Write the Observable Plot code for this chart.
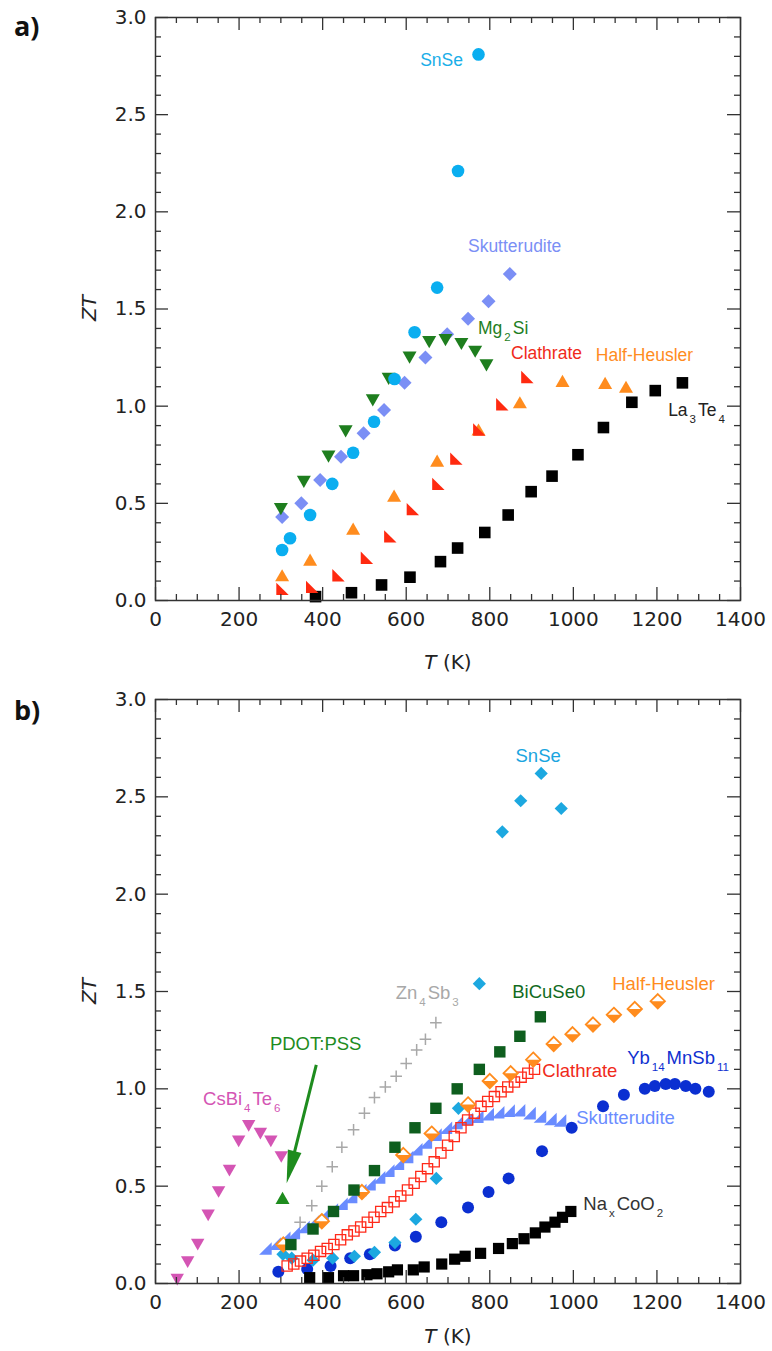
<!DOCTYPE html>
<html><head><meta charset="utf-8">
<script src="https://cdn.jsdelivr.net/npm/d3@7"></script>
<script src="https://cdn.jsdelivr.net/npm/@observablehq/plot@0.6"></script>
<style>
body{margin:0;background:#fff;}
#chart{width:772px;}
#chart svg{display:block;}
</style></head><body><div id="chart"></div>
<script>
// ---------- Panel a data ----------
const aSnSeT  = [303,322,370,423,473,523,572,620,674,724,773];
const aSnSeZT = [0.26,0.32,0.44,0.60,0.76,0.92,1.14,1.38,1.61,2.21,2.81];
const aSkutT  = [303,349,394,444,498,547,596,646,698,748,797,848];
const aSkutZT = [0.43,0.50,0.62,0.74,0.86,0.98,1.12,1.25,1.37,1.45,1.54,1.68];
const aMg2SiT  = [300,355,414,455,520,558,608,655,694,732,765,792];
const aMg2SiZT = [0.47,0.61,0.74,0.87,1.03,1.14,1.25,1.33,1.34,1.32,1.28,1.21];
const aClathT  = [304,375,438,506,562,616,677,720,775,830,890];
const aClathZT = [0.06,0.07,0.13,0.22,0.33,0.47,0.60,0.73,0.88,1.01,1.15];
const aHHT  = [303,370,473,571,674,773,872,974,1076,1126];
const aHHZT = [0.13,0.21,0.37,0.54,0.72,0.88,1.02,1.13,1.12,1.10];
const aLaTeT  = [383,469,541,609,682,723,788,844,899,949,1011,1072,1140,1196,1261];
const aLaTeZT = [0.02,0.04,0.08,0.12,0.20,0.27,0.35,0.44,0.56,0.64,0.75,0.89,1.02,1.08,1.12];

// ---------- Panel b data ----------
const bSnSeT  = [305,326,377,424,476,524,573,623,672,725,775,830,874,923,971];
const bSnSeZT = [0.15,0.13,0.12,0.13,0.14,0.16,0.21,0.33,0.54,0.90,1.54,2.32,2.48,2.62,2.44];
const bYbT  = [294,363,419,466,513,573,623,684,748,797,845,925,996,1071,1121,1171,1195,1221,1243,1269,1292,1324];
const bYbZT = [0.06,0.075,0.09,0.13,0.15,0.195,0.24,0.315,0.39,0.47,0.54,0.68,0.80,0.91,0.97,1.00,1.015,1.025,1.025,1.015,1.00,0.985];
const bNaT  = [369,414,450,474,506,530,558,579,617,643,685,716,741,778,821,854,882,909,932,956,974,994];
const bNaZT = [0.03,0.03,0.04,0.04,0.045,0.05,0.06,0.07,0.07,0.085,0.10,0.125,0.14,0.155,0.18,0.205,0.23,0.26,0.29,0.315,0.34,0.37];
const bBiT  = [324,377,426,475,524,573,621,671,722,775,824,872,921];
const bBiZT = [0.20,0.28,0.37,0.48,0.58,0.70,0.80,0.90,1.00,1.10,1.19,1.27,1.37];
const bHHT  = [306,398,494,593,661,748,800,850,904,953,998,1047,1097,1147,1202];
const bHHZT = [0.20,0.32,0.47,0.66,0.77,0.92,1.04,1.08,1.15,1.23,1.28,1.33,1.38,1.41,1.45];
const bClathT  = [315,331,347,363,379,395,411,427,443,459,475,491,507,523,539,555,571,587,603,619,635,651,667,683,699,715,731,747,763,779,795,811,827,843,859,875,891,907];
const bClathZT = [0.09,0.10,0.115,0.13,0.145,0.165,0.18,0.20,0.225,0.25,0.27,0.29,0.315,0.34,0.37,0.39,0.42,0.45,0.48,0.515,0.55,0.59,0.625,0.67,0.71,0.755,0.80,0.84,0.875,0.91,0.935,0.96,0.985,1.01,1.035,1.06,1.08,1.10];
const bSkutT  = [263,285,308,331,354,377,400,422,445,468,490,512,535,557,580,602,624,647,670,695,720,745,770,795,820,845,870,895,920,945,968];
const bSkutZT = [0.18,0.205,0.235,0.26,0.29,0.32,0.35,0.38,0.41,0.445,0.48,0.51,0.545,0.58,0.615,0.65,0.69,0.725,0.765,0.80,0.825,0.845,0.857,0.87,0.88,0.888,0.89,0.875,0.858,0.845,0.837];
const bZnT  = [346,374,398,423,446,474,500,524,550,576,600,625,646,671];
const bZnZT = [0.315,0.40,0.50,0.60,0.70,0.79,0.875,0.955,1.01,1.065,1.13,1.20,1.255,1.34];
const bCsT  = [52,77,101,126,151,177,199,223,251,276,301];
const bCsZT = [0.02,0.11,0.20,0.35,0.47,0.58,0.73,0.81,0.77,0.73,0.65];
const bPdotT  = [304];
const bPdotZT = [0.44];

// tick values
const xMajor = [0,200,400,600,800,1000,1200,1400];
const xMinor = d3.range(0,1401,50).filter(v => v % 200 !== 0);
const yMajor = [0,0.5,1.0,1.5,2.0,2.5,3.0];
const yMinor = d3.range(0,31).filter(i => i % 5 !== 0).map(i => i/10);

// labels (data coordinates)
const aLabels = [
  {text:"SnSe", T:737, ZT:2.78, anchor:"end", color:"#1aaee8"},
  {text:"Skutterudite", T:749, ZT:1.82, color:"#7b8ff5"},
  {text:"Mg_{2}Si", T:773, ZT:1.40, color:"#1e7e1e"},
  {text:"Clathrate", T:852, ZT:1.27, color:"#f02a1a"},
  {text:"Half-Heusler", T:1055, ZT:1.26, color:"#ff8c1e"},
  {text:"La_{3}Te_{4}", T:1228, ZT:0.98, color:"#222"}
];
const bLabels = [
  {text:"SnSe", T:917, ZT:2.71, anchor:"middle", color:"#1aa5e0"},
  {text:"Zn_{4}Sb_{3}", T:576, ZT:1.49, color:"#a8a8a8"},
  {text:"BiCuSe0", T:855, ZT:1.495, color:"#126b1e"},
  {text:"Half-Heusler", T:1094, ZT:1.536, color:"#ff8c1e"},
  {text:"PDOT:PSS", T:275, ZT:1.228, color:"#1e8c1e"},
  {text:"CsBi_{4}Te_{6}", T:115, ZT:0.95, color:"#d455b4"},
  {text:"Clathrate", T:927, ZT:1.089, color:"#f02a1a"},
  {text:"Yb_{14}MnSb_{11}", T:1130, ZT:1.156, color:"#1030d0"},
  {text:"Skutterudite", T:1008, ZT:0.848, color:"#6a8cff"},
  {text:"Na_{x}CoO_{2}", T:1025, ZT:0.406, color:"#333"}
];
const pdotArrow = {T1:386, ZT1:1.12, T2:315, ZT2:0.512, color:"#1e8c1e"};

// ---------- custom symbols ----------
const rr = s => Math.sqrt(s/Math.PI);
function poly(pts){ return {draw(ctx, size){ const r = rr(size); ctx.moveTo(pts[0][0]*r, pts[0][1]*r); for (let i=1;i<pts.length;i++) ctx.lineTo(pts[i][0]*r, pts[i][1]*r); ctx.closePath(); }}; }
const symSquare = poly([[-1,-1],[1,-1],[1,1],[-1,1]]);
const symDiamond = poly([[0,-1],[1,0],[0,1],[-1,0]]);
const symTriUp = poly([[0,-0.87],[1,0.87],[-1,0.87]]);
const symTriDown = poly([[-1,-0.87],[1,-0.87],[0,0.87]]);
const symTriBL = poly([[-1,-1],[-1,1],[1,1]]);
const symTriBR = poly([[1,-1],[1,1],[-1,1]]);
const symLowerHalf = poly([[-1,0],[1,0],[0,1]]);
const symPlus = {draw(ctx,size){ const r = rr(size); ctx.moveTo(-r,0); ctx.lineTo(r,0); ctx.moveTo(0,-r); ctx.lineTo(0,r); }};

const FONT = "Liberation Sans, Arial, sans-serif";
const AXFONT = "DejaVu Sans, sans-serif";
const W = 772, ML = 155, MR = 32;

function rows(T, Z){ return T.map((t,i) => ({T:t, ZT:Z[i]})); }
function dots(T, Z, o){ return Plot.dot(rows(T,Z), {x:"T", y:"ZT", ...o}); }

function makePanel(height, mt, mb, seriesMarks){
  const fh = height - mt - mb, fw = W - ML - MR;
  const ts = {stroke:"#333", strokeWidth:1.3};
  const tickMarks = [
    Plot.ruleX(xMajor, {...ts, insetTop: fh - 13}),
    Plot.ruleX(xMajor, {...ts, insetBottom: fh - 13}),
    Plot.ruleX(xMinor, {...ts, insetTop: fh - 6}),
    Plot.ruleX(xMinor, {...ts, insetBottom: fh - 6}),
    Plot.ruleY(yMajor, {...ts, insetRight: fw - 13}),
    Plot.ruleY(yMajor, {...ts, insetLeft: fw - 13}),
    Plot.ruleY(yMinor, {...ts, insetRight: fw - 6}),
    Plot.ruleY(yMinor, {...ts, insetLeft: fw - 6})
  ];
  return Plot.plot({
    width: W, height, marginTop: mt, marginBottom: mb, marginLeft: ML, marginRight: MR,
    x: {domain:[0,1400]}, y: {domain:[0,3]},
    style: {fontSize:"20px", fontFamily: AXFONT, color:"#222", background:"#fff", overflow:"visible"},
    marks: [
      ...seriesMarks,
      ...tickMarks,
      Plot.frame({stroke:"#333", strokeWidth:1.5}),
      Plot.axisX({ticks: xMajor, tickSize:0, tickPadding:11, tickFormat: d3.format("d"), label:null, fill:"#222", fontSize:20, fontFamily: AXFONT}),
      Plot.axisY({ticks: yMajor, tickSize:0, tickPadding:9, tickFormat: d3.format(".1f"), label:null, fill:"#222", fontSize:20, fontFamily: AXFONT})
    ]
  });
}

function annotate(plot, labels, fs){
  const svg = d3.select(plot);
  const x = plot.scale("x"), y = plot.scale("y");
  const g = svg.append("g").attr("font-family", FONT);
  labels.forEach(l => {
    const t = g.append("text").attr("x", x.apply(l.T)).attr("y", y.apply(l.ZT))
      .attr("dy","0.35em").attr("fill", l.color).attr("font-size", fs)
      .attr("text-anchor", l.anchor || "start");
    const parts = l.text.split(/(_\{[^}]*\})/).filter(p => p.length);
    let shifted = false;
    parts.forEach(p => {
      if (p.startsWith("_{")) {
        t.append("tspan").attr("font-size", 11.5).attr("dy", shifted ? 0 : 7).attr("dx", 2).text(p.slice(2,-1));
        shifted = true;
      } else {
        const s = t.append("tspan").text(p);
        if (shifted) { s.attr("dy", -7).attr("dx", 2); shifted = false; }
      }
    });
  });
}

function frameText(plot, panelLetter, letterY, ztY, tY){
  const svg = d3.select(plot);
  svg.append("text").attr("x", 14).attr("y", letterY).attr("text-anchor","start").attr("font-family","Open Sans, DejaVu Sans, sans-serif")
    .attr("font-weight", 700).attr("font-size", 27).attr("fill","#111").text(panelLetter);
  svg.append("text").attr("transform", `translate(96,${ztY}) rotate(-90)`).attr("text-anchor","middle")
    .attr("font-family", AXFONT).attr("font-size", 20).attr("font-style","italic").attr("fill","#222").text("ZT");
  const tt = svg.append("text").attr("x", 448).attr("y", tY).attr("text-anchor","middle")
    .attr("font-family", AXFONT).attr("font-size", 20).attr("fill","#222");
  tt.append("tspan").attr("font-style","italic").text("T");
  tt.append("tspan").text(" (K)");
}

const chart = document.getElementById("chart");

// ---------- Panel a ----------
const plotA = makePanel(680, 17, 80, [
  dots(aLaTeT, aLaTeZT, {symbol: symSquare, r:5.8, fill:"#000"}),
  dots(aHHT, aHHZT, {symbol: symTriUp, r:7, fill:"#ff8c1e"}),
  dots(aClathT, aClathZT, {symbol: symTriBL, r:6.2, fill:"#ff2a10"}),
  dots(aSkutT, aSkutZT, {symbol: symDiamond, r:7, fill:"#7b8ff5"}),
  dots(aMg2SiT, aMg2SiZT, {symbol: symTriDown, r:7, fill:"#1e7e1e"}),
  dots(aSnSeT, aSnSeZT, {symbol:"circle", r:6.3, fill:"#0aaef0"})
]);
annotate(plotA, aLabels, 17.5);
frameText(plotA, "a)", 36, 308, 669);
chart.appendChild(plotA);

// ---------- Panel b ----------
const plotB = makePanel(671, 19, 68, [
  dots(bYbT, bYbZT, {symbol:"circle", r:6, fill:"#0b2fd1"}),
  dots(bNaT, bNaZT, {symbol: symSquare, r:5.6, fill:"#000"}),
  dots(bSnSeT, bSnSeZT, {symbol: symDiamond, r:6.6, fill:"#1ca8e0"}),
  dots(bSkutT, bSkutZT, {symbol: symTriBR, r:6.3, fill:"#6a8cff"}),
  dots(bClathT, bClathZT, {symbol: symSquare, r:5.1, fill:"none", stroke:"#ff2a1a", strokeWidth:1.3}),
  dots(bHHT, bHHZT, {symbol: symDiamond, r:7.2, fill:"#fff", stroke:"#ff8c1e", strokeWidth:1.8}),
  dots(bHHT, bHHZT, {symbol: symLowerHalf, r:7.2, fill:"#ff8c1e"}),
  dots(bBiT, bBiZT, {symbol: symSquare, r:5.7, fill:"#0e5e1e"}),
  dots(bZnT, bZnZT, {symbol: symPlus, r:5.8, fill:"none", stroke:"#a8a8a8", strokeWidth:1.5}),
  dots(bCsT, bCsZT, {symbol: symTriDown, r:6.7, fill:"#d455b4"}),
  dots(bPdotT, bPdotZT, {symbol: symTriUp, r:7, fill:"#1e8c1e"})
]);
annotate(plotB, bLabels, 18.5);
frameText(plotB, "b)", 40, 311, 663);
// PDOT:PSS arrow
{
  const x = plotB.scale("x"), y = plotB.scale("y");
  const x1 = x.apply(pdotArrow.T1), y1 = y.apply(pdotArrow.ZT1);
  const x2 = x.apply(pdotArrow.T2), y2 = y.apply(pdotArrow.ZT2);
  const dx = x2 - x1, dy = y2 - y1, L = Math.hypot(dx, dy), ux = dx/L, uy = dy/L;
  const hl = 33, hw = 7;
  const bx = x2 - ux*hl, by = y2 - uy*hl;
  const svg = d3.select(plotB);
  svg.append("line").attr("x1", x1).attr("y1", y1).attr("x2", bx + ux*2).attr("y2", by + uy*2)
    .attr("stroke", pdotArrow.color).attr("stroke-width", 3);
  svg.append("polygon").attr("points", [[x2,y2],[bx - uy*hw, by + ux*hw],[bx + uy*hw, by - ux*hw]].map(p => p.join(",")).join(" "))
    .attr("fill", pdotArrow.color);
}
chart.appendChild(plotB);
</script></body></html>
